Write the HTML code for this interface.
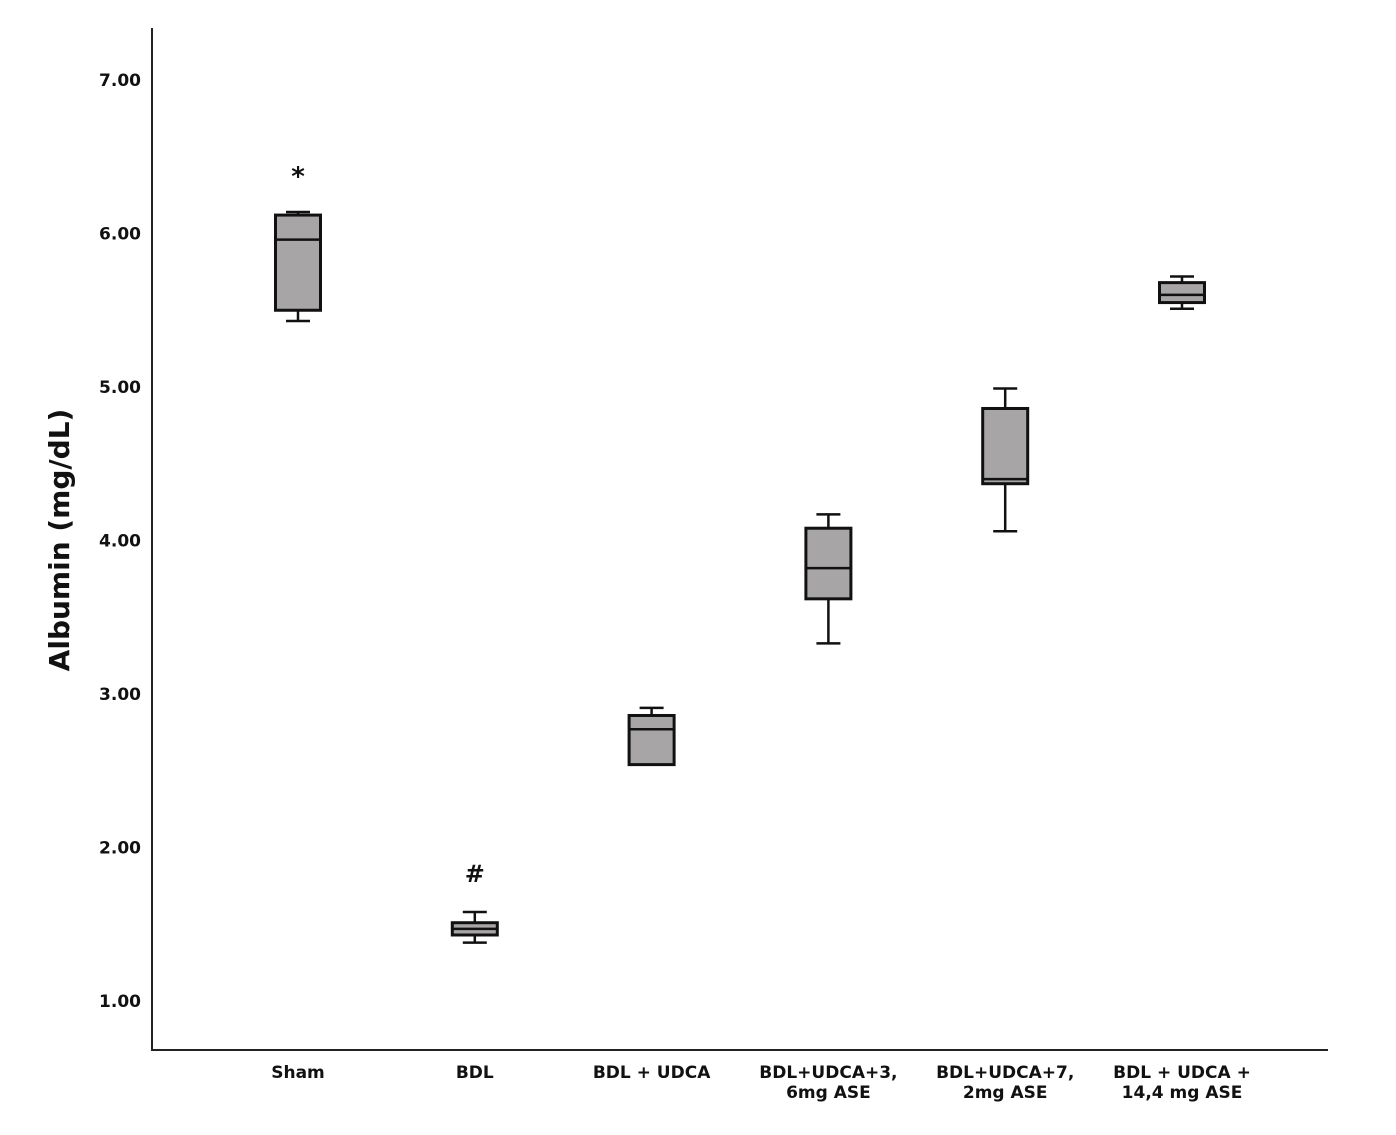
<!DOCTYPE html>
<html><head><meta charset="utf-8"><style>
html,body{margin:0;padding:0;background:#fff;}
svg{display:block;font-family:"DejaVu Sans","Liberation Sans",sans-serif;}
</style></head><body>
<svg id="chart" width="1396" height="1135" viewBox="0 0 1396 1135" xmlns="http://www.w3.org/2000/svg">
<line x1="152" y1="28" x2="152" y2="1051" stroke="#222" stroke-width="2"/>
<line x1="151" y1="1050" x2="1328" y2="1050" stroke="#222" stroke-width="2"/>
<text transform="translate(69,540) rotate(-90)" text-anchor="middle" font-size="28" font-weight="bold" fill="#111">Albumin (mg/dL)</text>
<g id="yticks"></g><g id="xticks"></g><g id="boxes"></g>
</svg>
<script>
const categories = [["Sham"],["BDL"],["BDL + UDCA"],["BDL+UDCA+3,","6mg ASE"],["BDL+UDCA+7,","2mg ASE"],["BDL + UDCA +","14,4 mg ASE"]];
const whiskerHigh = [6.14,1.58,2.91,4.17,4.99,5.72];
const q3Values    = [6.12,1.51,2.86,4.08,4.86,5.68];
const medians     = [5.96,1.47,2.77,3.82,4.40,5.60];
const q1Values    = [5.50,1.43,2.54,3.62,4.37,5.55];
const whiskerLow  = [5.43,1.38,2.54,3.33,4.06,5.51];
const annotations = ["*","#","","","",""];
const yTickValues = [1,2,3,4,5,6,7];

const NS="http://www.w3.org/2000/svg";
const y = v => 1001 - (v-1)*153.5;
const x = i => 298 + i*176.8;
function mk(tag, attrs, parent){const e=document.createElementNS(NS,tag);for(const k in attrs)e.setAttribute(k,attrs[k]);parent.appendChild(e);return e;}
const yt=document.getElementById('yticks'), xt=document.getElementById('xticks'), bx=document.getElementById('boxes');
yTickValues.forEach(v=>{
  const t=mk('text',{x:141,y:y(v)+6,'text-anchor':'end','font-size':17,'font-weight':'bold',fill:'#111'},yt);
  
  
  t.textContent=v.toFixed(2);
});
categories.forEach((lines,i)=>{
  const t=mk('text',{x:x(i),y:1078,'text-anchor':'middle','font-size':17,'font-weight':'bold',fill:'#111'},xt);
  
  
  lines.forEach((l,j)=>{const s=mk('tspan',{x:x(i),dy:j?20:0},t);s.textContent=l;});
});
categories.forEach((c,i)=>{
  const cx=x(i), hw=22.5, cw=12;
  const g=mk('g',{},bx);
  
  
  mk('line',{x1:cx,x2:cx,y1:y(whiskerHigh[i]),y2:y(q3Values[i]),stroke:'#111','stroke-width':2.5},g);
  mk('line',{x1:cx,x2:cx,y1:y(q1Values[i]),y2:y(whiskerLow[i]),stroke:'#111','stroke-width':2.5},g);
  mk('line',{x1:cx-cw,x2:cx+cw,y1:y(whiskerHigh[i]),y2:y(whiskerHigh[i]),stroke:'#111','stroke-width':2.5},g);
  mk('line',{x1:cx-cw,x2:cx+cw,y1:y(whiskerLow[i]),y2:y(whiskerLow[i]),stroke:'#111','stroke-width':2.5},g);
  mk('rect',{x:cx-hw,y:y(q3Values[i]),width:2*hw,height:Math.max(1,y(q1Values[i])-y(q3Values[i])),fill:'#a8a5a6',stroke:'#111','stroke-width':3},g);
  mk('line',{x1:cx-hw,x2:cx+hw,y1:y(medians[i]),y2:y(medians[i]),stroke:'#111','stroke-width':2.5},g);
  if(annotations[i]){
    const a=mk('text',{x:cx,y:y(whiskerHigh[i])-(annotations[i]=='*'?27:30),'text-anchor':'middle','font-size':annotations[i]=='*'?26:24,'font-weight':'bold',fill:'#111'},g);
    
    
    a.textContent=annotations[i];
  }
});
</script>
</body></html>
